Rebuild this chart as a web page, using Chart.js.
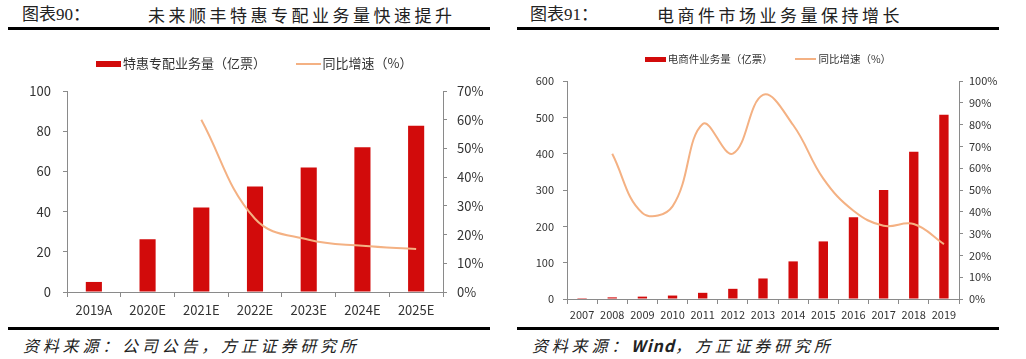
<!DOCTYPE html>
<html>
<head>
<meta charset="utf-8">
<script src="https://cdn.jsdelivr.net/npm/chart.js@4.4.1/dist/chart.umd.min.js"></script>
<style>
  html, body { margin: 0; padding: 0; background: #fff; }
  body { width: 1026px; height: 359px; position: relative; overflow: hidden; font-family: "Noto Sans CJK SC", sans-serif; color: #222; }
  .abs { position: absolute; white-space: nowrap; }
  .fig { font-family: "Liberation Serif", "Noto Sans CJK SC", serif; font-size: 17px; line-height: 20px; }
  .ttl { font-size: 17px; line-height: 20px; letter-spacing: 3.5px; }
  .rule { background: #000; height: 3px; }
  .src { font-style: italic; font-size: 16px; line-height: 20px; letter-spacing: 3.8px; }
  .src .lat { letter-spacing: 1px; font-weight: bold; }
</style>
</head>
<body>

<div class="abs fig" style="left:22px; top:5px;">图表90：</div>
<div class="abs ttl" style="left:148px; top:5px;">未来顺丰特惠专配业务量快速提升</div>
<div class="abs rule" style="left:8px; top:27px; width:482px;"></div>
<canvas id="chart1" class="abs" style="left:0; top:23px;" width="513" height="302"></canvas>
<div class="abs rule" style="left:8px; top:327px; width:482px;"></div>
<div class="abs src" style="left:23px; top:335px;">资料来源：公司公告，方正证券研究所</div>

<div class="abs fig" style="left:530px; top:5px;">图表91：</div>
<div class="abs ttl" style="left:657px; top:5px;">电商件市场业务量保持增长</div>
<div class="abs rule" style="left:517px; top:27px; width:482px;"></div>
<canvas id="chart2" class="abs" style="left:515px; top:28px;" width="509" height="297"></canvas>
<div class="abs rule" style="left:517px; top:327px; width:482px;"></div>
<div class="abs src" style="left:532px; top:335px;">资料来源：<span class="lat">Wind</span>，方正证券研究所</div>

<script>
// chart 1 - 特惠专配
const years1 = ['2019A', '2020E', '2021E', '2022E', '2023E', '2024E', '2025E'];
const volume1 = [5, 26.2, 42.1, 52.5, 62, 72, 82.7];
const growth1 = [null, null, 60, 25.5, 18.2, 16.1, 15];
const leftTicks1 = [0, 20, 40, 60, 80, 100];
const rightTicks1 = [0, 10, 20, 30, 40, 50, 60, 70];

// chart 2 - 电商件
const years2 = ['2007', '2008', '2009', '2010', '2011', '2012', '2013', '2014', '2015', '2016', '2017', '2018', '2019'];
const volume2 = [2.5, 4.5, 6.5, 9.5, 17, 28, 56.5, 103.5, 158.5, 225, 300, 405.5, 507];
const growth2 = [null, 66.6, 39.5, 42.5, 80.3, 66.7, 93.6, 79.8, 55.2, 40.5, 33.6, 34.4, 25.2];
const leftTicks2 = [0, 100, 200, 300, 400, 500, 600];
const rightTicks2 = [0, 10, 20, 30, 40, 50, 60, 70, 80, 90, 100];

const RED = '#d20b0b';
const ORANGE = '#f4b183';
const AXIS = '#8a8a8a';
const TEXT = '#333';
const FONT = '"Noto Sans CJK SC", sans-serif';

// little canvas used as the legend swatch
function swatch(w, h, color) {
    const c = document.createElement('canvas');
    c.width = w; c.height = h;
    const g = c.getContext('2d');
    g.fillStyle = color;
    g.fillRect(0, 0, w, h);
    return c;
}

function fixedLegend(h) {
    return {
        id: 'fixedLegend',
        beforeUpdate(chart) {
            const lg = chart.legend;
            if (!lg || lg._fixed) return;
            const fit = lg.fit;
            lg.fit = function () { fit.call(this); this.height = h; };
            lg._fixed = true;
        }
    };
}

function buildChart(id, s) {
    const ctx = document.getElementById(id);
    return new Chart(ctx, {
        type: 'bar',
        data: {
            labels: s.labels,
            datasets: [
                {
                    type: 'bar',
                    label: s.barLabel,
                    data: s.bars,
                    backgroundColor: RED,
                    barPercentage: s.barPct,
                    categoryPercentage: 1,
                    yAxisID: 'y',
                    order: 1,
                    mark: swatch(s.markW, s.markH, RED)
                },
                {
                    type: 'line',
                    label: s.lineLabel,
                    data: s.line,
                    borderColor: ORANGE,
                    borderWidth: 2,
                    pointRadius: 0,
                    tension: 0.4,
                    fill: false,
                    yAxisID: 'y1',
                    order: 0,
                    mark: swatch(s.markW, 2, ORANGE)
                }
            ]
        },
        options: {
            responsive: false,
            animation: false,
            layout: { padding: 0 },
            plugins: {
                tooltip: { enabled: false },
                legend: {
                    position: 'top',
                    labels: {
                        usePointStyle: true,
                        pointStyleWidth: s.boxW,
                        padding: s.legendPad,
                        color: TEXT,
                        font: { family: FONT, size: s.legendFont },
                        generateLabels(chart) {
                            return chart.data.datasets.map((ds, i) => ({
                                text: ds.label,
                                pointStyle: ds.mark,
                                fillStyle: ds.backgroundColor || ds.borderColor,
                                strokeStyle: ds.borderColor || ds.backgroundColor,
                                lineWidth: 0,
                                hidden: false,
                                datasetIndex: i,
                                fontColor: TEXT
                            }));
                        }
                    }
                }
            },
            scales: {
                x: {
                    offset: true,
                    grid: { offset: true, drawOnChartArea: false, drawTicks: true, tickLength: 5, color: AXIS },
                    border: { display: true, color: AXIS },
                    ticks: { color: TEXT, padding: s.xPad, font: { family: FONT, size: s.tickFont }, maxRotation: 0, autoSkip: false },
                    afterFit(scale) { scale.height = s.xH; }
                },
                y: {
                    position: 'left',
                    min: s.leftTicks[0],
                    max: s.leftTicks[s.leftTicks.length - 1],
                    grid: { drawOnChartArea: false, drawTicks: true, tickLength: 4, color: AXIS },
                    border: { display: true, color: AXIS },
                    ticks: { stepSize: s.leftTicks[1] - s.leftTicks[0], color: TEXT, padding: s.yPad, font: { family: FONT, size: s.tickFont } },
                    afterFit(scale) { scale.width = s.leftW; }
                },
                y1: {
                    position: 'right',
                    min: s.rightTicks[0],
                    max: s.rightTicks[s.rightTicks.length - 1],
                    grid: { drawOnChartArea: false, drawTicks: true, tickLength: 4, color: AXIS },
                    border: { display: true, color: AXIS },
                    ticks: {
                        stepSize: s.rightTicks[1] - s.rightTicks[0],
                        color: TEXT, padding: s.y1Pad,
                        font: { family: FONT, size: s.tickFont },
                        callback: v => v + '%'
                    },
                    afterFit(scale) { scale.width = s.rightW; }
                }
            }
        },
        plugins: [fixedLegend(s.legendH)]
    });
}

buildChart('chart1', {
    labels: years1, bars: volume1, line: growth1,
    barLabel: '特惠专配业务量（亿票）', lineLabel: '同比增速（%）',
    leftTicks: leftTicks1, rightTicks: rightTicks1,
    barPct: 0.3, markW: 25, markH: 6, boxW: 16,
    legendPad: 34, legendFont: 13, legendH: 68,
    tickFont: 13, xPad: 5, xH: 33, yPad: 12, y1Pad: 10,
    leftW: 67, rightW: 70
});

buildChart('chart2', {
    labels: years2, bars: volume2, line: growth2,
    barLabel: '电商件业务量（亿票）', lineLabel: '同比增速（%）',
    leftTicks: leftTicks2, rightTicks: rightTicks2,
    barPct: 0.31, markW: 21, markH: 5, boxW: 14.5,
    legendPad: 26, legendFont: 10.5, legendH: 53,
    tickFont: 11, xPad: 4, xH: 26, yPad: 9, y1Pad: 6,
    leftW: 52, rightW: 65
});
</script>
</body>
</html>
